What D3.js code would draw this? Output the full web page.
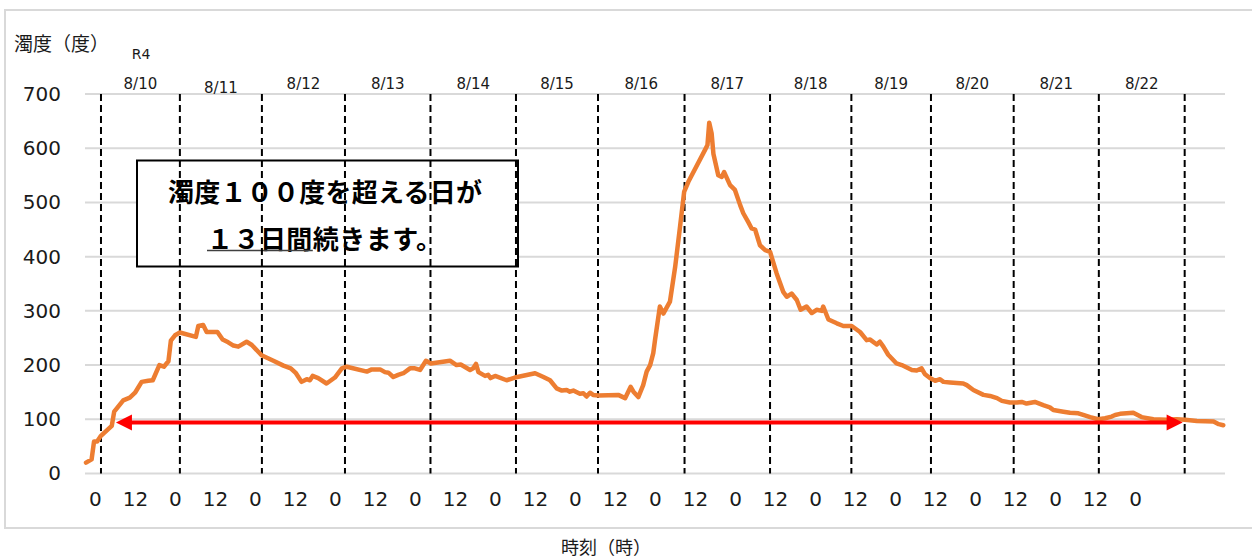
<!DOCTYPE html>
<html>
<head>
<meta charset="utf-8">
<script src="https://cdn.jsdelivr.net/npm/d3@7"></script>
<style>
  html, body { margin: 0; padding: 0; background: #fff; }
  svg { display: block; }
</style>
</head>
<body>
<svg id="chart" width="1252" height="559"></svg>
<script>
// ---------------- data ----------------
// hours elapsed since the left edge of the plot
const hours = [
  0.3, 1.9, 2.6, 3.5, 4.5, 7.7, 8.4, 11.0, 12.9, 14.4, 16.3, 18.2, 19.5, 21.4, 22.7, 24.0,
  24.7, 25.9, 27.3, 31.9, 32.6, 34.0, 35.0, 38.1, 39.6, 41.2, 42.7, 44.1, 46.5, 48.0, 50.8,
  54.2, 57.1, 59.2, 60.7, 62.3, 63.8, 64.7, 65.5, 67.1, 69.5, 71.9, 73.9, 75.3, 81.1, 82.5,
  84.9, 86.3, 87.3, 88.7, 90.1, 91.6, 93.5, 94.9, 96.4, 98.1, 99.5, 105.0, 106.9, 108.1,
  110.8, 111.7, 112.5, 113.2, 115.1, 116.0, 116.7, 118.0, 121.3, 123.7, 129.5, 131.9, 133.8,
  135.7, 137.2, 138.6, 139.5, 140.5, 142.4, 143.4, 144.3, 145.3, 146.2, 147.7, 153.4, 155.4,
  157.0, 157.8, 159.2, 160.6, 161.6, 162.6, 163.5, 164.0, 165.4, 166.4, 168.3, 169.8, 171.2,
  172.4, 173.6, 178.4, 179.1, 179.6, 180.3, 180.8, 182.2, 183.2, 183.9, 185.6, 187.0, 188.5,
  189.4, 190.8, 191.8, 192.8, 194.2, 195.7, 197.1, 199.0, 200.9, 201.9, 203.3, 204.8, 205.9,
  207.6, 209.1, 210.5, 212.0, 212.4, 213.9, 216.3, 218.2, 220.6, 223.0, 224.9, 225.9, 227.8,
  228.7, 229.7, 231.1, 233.5, 235.0, 236.9, 237.9, 239.3, 240.7, 241.7, 243.1, 244.6, 246.0,
  247.0, 248.9, 252.7, 253.7, 255.6, 258.5, 260.4, 262.4, 263.8, 266.1, 268.1, 269.5, 270.9,
  273.3, 275.7, 277.6, 278.6, 281.5, 283.4, 285.8, 287.2, 289.2, 291.5, 293.5, 295.4, 296.4,
  297.8, 301.6, 304.0, 307.4, 311.2, 314.1, 316.5, 319.9, 324.7, 326.2, 327.5
];
const turbidity = [
  20, 26, 59, 59, 69, 88, 114, 135, 140, 149, 169, 171, 172, 200, 197, 207,
  245, 255, 260, 252, 272, 274, 261, 261, 247, 242, 236, 234, 243, 237, 218,
  208, 199, 194, 185, 169, 174, 172, 180, 176, 166, 177, 194, 197, 188, 192,
  192, 187, 186, 178, 182, 185, 194, 194, 191, 208, 203, 208, 200, 201,
  191, 194, 202, 187, 180, 182, 176, 180, 172, 177, 185, 178, 172,
  157, 153, 154, 151, 153, 147, 148, 142, 149, 145, 144, 145, 139,
  160, 151, 141, 163, 188, 200, 222, 246, 308, 295, 317, 381, 455,
  520, 538, 597, 606, 647, 627, 590, 550, 547, 556, 532, 523, 495,
  480, 464, 452, 450, 421, 412, 409, 369, 335, 326, 332, 320, 302,
  308, 296, 302, 300, 308, 284, 277, 272, 272, 261, 246, 247, 238,
  243, 234, 219, 203, 200, 194, 191, 190, 194, 183, 176, 171, 174,
  169, 168, 166, 163, 154, 145, 143, 139, 134, 131, 131, 132, 129,
  132, 126, 122, 117, 114, 112, 111, 108, 104, 100, 102, 105, 108,
  110, 112, 104, 100, 99, 100, 99, 97, 96, 91, 89
];
// day boundaries (hours) and their date labels
const dayBoundaries = [4.6, 27.3, 50.9, 74.8, 99.4, 124.0, 147.6, 172.5, 197.1, 220.5, 243.4, 267.2, 291.7, 316.4];
const dateLabels = ["8/10", "8/11", "8/12", "8/13", "8/14", "8/15", "8/16", "8/17", "8/18", "8/19", "8/20", "8/21", "8/22"];
// x tick labels (category labels)
const hourTickLabels = ["0","12","0","12","0","12","0","12","0","12","0","12","0","12","0","12","0","12","0","12","0","12","0","12","0","12","0"];
const yTicks = [0, 100, 200, 300, 400, 500, 600, 700];
// arrow: 100-degree period
const arrowFrom = 8.9, arrowTo = 315.8, arrowLevel = 94;
const yTitle = "濁度（度）";
const xTitle = "時刻（時）";
const eraLabel = "R4";
const noteLine1 = "濁度１００度を超える日が";
const noteLine2a = "１３日間";
const noteLine2b = "続きます。";

// ---------------- layout ----------------
const svg = d3.select("#chart");
const x = d3.scaleLinear().domain([0, 328]).range([85, 1225]);
const y = d3.scaleLinear().domain([0, 700]).range([473.5, 94]);
const numFont = "'DejaVu Sans', Verdana, sans-serif";
const jpFont = "'Noto Sans CJK JP', 'Noto Sans', sans-serif";
const ink = "#1a1a1a";

// outer frame
svg.append("rect")
  .attr("x", 5).attr("y", 10).attr("width", 1270).attr("height", 518)
  .attr("fill", "none").attr("stroke", "#d9d9d9").attr("stroke-width", 2);

// gridlines
svg.append("g").selectAll("line").data(yTicks).join("line")
  .attr("x1", x(0)).attr("x2", x(328))
  .attr("y1", d => y(d)).attr("y2", d => y(d))
  .attr("stroke", "#d9d9d9").attr("stroke-width", 2);

// y axis tick labels
const yAxis = d3.axisLeft(y).tickValues(yTicks).tickSize(0).tickPadding(0);
const yg = svg.append("g").attr("transform", "translate(61,0)").call(yAxis);
yg.select(".domain").remove();
yg.selectAll("text").attr("font-family", numFont).attr("font-size", 20).attr("fill", ink);

// x tick labels
const tickHours = hourTickLabels.map((_, i) => 3 + i * 11.51);
svg.append("g").selectAll("text").data(hourTickLabels).join("text")
  .attr("x", (d, i) => x(tickHours[i]))
  .attr("y", 499)
  .attr("text-anchor", "middle").attr("dominant-baseline", "central")
  .attr("font-family", numFont).attr("font-size", 20).attr("fill", ink)
  .text(d => d);

// annotation box (white fill hides gridlines)
const box = svg.append("g");
box.append("rect")
  .attr("x", 137).attr("y", 160.5).attr("width", 381).attr("height", 106)
  .attr("fill", "#fff").attr("stroke", "#000").attr("stroke-width", 2);
box.append("text")
  .attr("x", 168).attr("y", 190)
  .attr("dominant-baseline", "central")
  .attr("textLength", 314).attr("lengthAdjust", "spacing")
  .attr("font-family", jpFont).attr("font-weight", 700).attr("font-size", 26).attr("fill", "#000")
  .text(noteLine1);
const t2 = box.append("text")
  .attr("x", 207).attr("y", 237)
  .attr("dominant-baseline", "central")
  .attr("textLength", 235).attr("lengthAdjust", "spacing")
  .attr("font-family", jpFont).attr("font-weight", 700).attr("font-size", 26).attr("fill", "#000");
t2.append("tspan").text(noteLine2a);
t2.append("tspan").text(noteLine2b);
const tn = t2.node();
const ux1 = tn.getStartPositionOfChar(0).x;
const ux2 = tn.getStartPositionOfChar(noteLine2a.length).x;
box.append("line")
  .attr("x1", ux1).attr("x2", ux2).attr("y1", 250.5).attr("y2", 250.5)
  .attr("stroke", "#404040").attr("stroke-width", 1.5);

// day boundary dashed lines
svg.append("g").selectAll("line").data(dayBoundaries).join("line")
  .attr("x1", d => x(d)).attr("x2", d => x(d))
  .attr("y1", y(700)).attr("y2", y(0))
  .attr("stroke", "#000").attr("stroke-width", 2).attr("stroke-dasharray", "7,4");

// date labels centred between boundaries
svg.append("g").selectAll("text").data(dateLabels).join("text")
  .attr("x", (d, i) => x((dayBoundaries[i] + dayBoundaries[i + 1]) / 2))
  .attr("y", (d, i) => i === 1 ? 88 : 84)
  .attr("text-anchor", "middle").attr("dominant-baseline", "central")
  .attr("font-family", numFont).attr("font-size", 15).attr("fill", ink)
  .text(d => d);

// data line
const pts = hours.map((h, i) => [h, turbidity[i]]);
svg.append("path")
  .datum(pts)
  .attr("d", d3.line().x(d => x(d[0])).y(d => y(d[1])))
  .attr("fill", "none").attr("stroke", "#ED7D31").attr("stroke-width", 4.5)
  .attr("stroke-linejoin", "round").attr("stroke-linecap", "round");

// red double arrow
const ay = y(arrowLevel), ax1 = x(arrowFrom), ax2 = x(arrowTo), ah = 16, aw = 8;
svg.append("line")
  .attr("x1", ax1 + ah - 2).attr("x2", ax2 - ah + 2).attr("y1", ay).attr("y2", ay)
  .attr("stroke", "#FF0000").attr("stroke-width", 4);
svg.append("path")
  .attr("d", `M${ax1},${ay} L${ax1 + ah},${ay - aw} L${ax1 + ah},${ay + aw} Z`)
  .attr("fill", "#FF0000");
svg.append("path")
  .attr("d", `M${ax2},${ay} L${ax2 - ah},${ay - aw} L${ax2 - ah},${ay + aw} Z`)
  .attr("fill", "#FF0000");

// titles
svg.append("text")
  .attr("x", 14).attr("y", 42).attr("dominant-baseline", "central")
  .attr("font-family", jpFont).attr("font-size", 19).attr("fill", ink)
  .text(yTitle);
svg.append("text")
  .attr("x", 141).attr("y", 54).attr("text-anchor", "middle").attr("dominant-baseline", "central")
  .attr("font-family", numFont).attr("font-size", 14).attr("fill", ink)
  .text(eraLabel);
svg.append("text")
  .attr("x", 606).attr("y", 546).attr("text-anchor", "middle").attr("dominant-baseline", "central")
  .attr("font-family", jpFont).attr("font-size", 18).attr("fill", ink)
  .text(xTitle);
</script>
</body>
</html>
